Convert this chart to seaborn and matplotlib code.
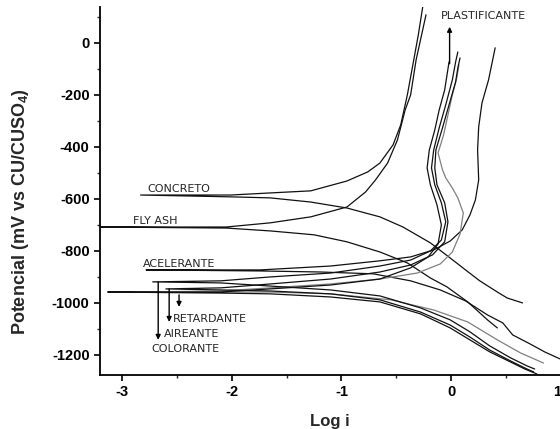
import numpy as np
import pandas as pd
import matplotlib
matplotlib.use('Agg')
import matplotlib.pyplot as plt
from matplotlib.ticker import MultipleLocator
import seaborn as sns

curve_names = ['CONCRETO', 'FLY ASH', 'ACELERANTE', 'RETARDANTE',
               'AIREANTE', 'COLORANTE', 'PLASTIFICANTE']

# punto de inicio de cada barrido (log i, mV)
start_logi = [-2.83, -3.19, -2.78, -2.83, -2.60, -2.72, -3.13]
start_mv = [-585, -708, -873, -958, -946, -919, -958]

# rama anodica / catodica de cada curva
concreto_an_x = [-2.01, -1.65, -1.28, -0.95, -0.76, -0.65, -0.53, -0.46, -0.40, -0.35, -0.30, -0.26]
concreto_an_y = [-585, -577, -569, -531, -496, -462, -392, -315, -200, -85, 31, 138]
concreto_ca_x = [-2.01, -1.65, -1.28, -0.95, -0.65, -0.44, -0.19, -0.01, 0.13, 0.26, 0.42, 0.51, 0.65]
concreto_ca_y = [-592, -596, -612, -635, -669, -708, -769, -827, -873, -915, -958, -981, -1000]

flyash_an_x = [-2.05, -1.65, -1.28, -0.95, -0.78, -0.69, -0.58, -0.49, -0.42, -0.37, -0.32, -0.27, -0.23]
flyash_an_y = [-708, -692, -669, -631, -573, -527, -462, -373, -258, -200, -65, 31, 108]
flyash_ca_x = [-2.05, -1.65, -1.25, -0.95, -0.65, -0.40, -0.19, -0.04, 0.15, 0.33, 0.42]
flyash_ca_y = [-712, -723, -738, -765, -804, -846, -904, -938, -996, -1065, -1096]

acel_an_x = [-1.74, -1.10, -0.65, -0.37, -0.16, -0.01, 0.10, 0.17, 0.22, 0.25, 0.24, 0.25, 0.28, 0.34, 0.40]
acel_an_y = [-873, -858, -838, -823, -796, -762, -719, -662, -604, -527, -412, -323, -231, -142, -19]
acel_ca_x = [-1.74, -1.19, -0.71, -0.37, -0.10, 0.13, 0.33, 0.47, 0.56, 0.72, 0.85, 0.99]
acel_ca_y = [-877, -881, -888, -915, -950, -992, -1046, -1077, -1123, -1158, -1188, -1215]

retar_an_x = [-2.10, -1.65, -1.10, -0.65, -0.31, -0.10, 0.01, 0.08, 0.11, 0.06, 0.01, -0.05, -0.08, -0.12, -0.07, -0.03, 0.01, 0.05, 0.07]
retar_an_y = [-954, -942, -927, -908, -885, -850, -804, -735, -654, -596, -558, -519, -488, -423, -354, -277, -200, -135, -85]
retar_ca_x = [-2.10, -1.65, -1.10, -0.55, -0.16, 0.15, 0.42, 0.63, 0.84]
retar_ca_y = [-958, -958, -965, -988, -1027, -1073, -1142, -1192, -1231]

airea_an_x = [-2.10, -1.65, -1.10, -0.65, -0.37, -0.17, -0.06, -0.03, -0.06, -0.13, -0.15, -0.14, -0.08, -0.02, 0.04, 0.06, 0.08]
airea_an_y = [-942, -927, -908, -881, -854, -815, -765, -688, -615, -546, -481, -412, -327, -238, -150, -96, -58]
airea_ca_x = [-2.10, -1.65, -1.10, -0.65, -0.28, -0.01, 0.17, 0.35, 0.54, 0.69, 0.75]
airea_ca_y = [-950, -954, -965, -988, -1035, -1085, -1131, -1181, -1223, -1254, -1265]

color_an_x = [-2.10, -1.65, -1.10, -0.65, -0.37, -0.19, -0.09, -0.05, -0.09, -0.15, -0.18, -0.16, -0.11, -0.05, 0.01, 0.04, 0.06]
color_an_y = [-915, -900, -885, -858, -835, -800, -758, -688, -615, -546, -481, -412, -327, -238, -142, -73, -35]
color_ca_x = [-2.10, -1.65, -1.10, -0.65, -0.28, -0.01, 0.17, 0.35, 0.54, 0.69, 0.76]
color_ca_y = [-923, -935, -950, -973, -1019, -1065, -1111, -1165, -1211, -1242, -1254]

plast_an_x = [-2.10, -1.65, -1.10, -0.65, -0.37, -0.21, -0.12, -0.09, -0.13, -0.19, -0.22, -0.20, -0.15, -0.11, -0.06, -0.02]
plast_an_y = [-958, -946, -931, -908, -865, -823, -773, -700, -623, -546, -481, -412, -335, -258, -181, -73]
plast_ca_x = [-2.10, -1.65, -1.10, -0.65, -0.28, -0.01, 0.17, 0.35, 0.54, 0.67, 0.78]
plast_ca_y = [-962, -965, -977, -996, -1042, -1096, -1142, -1188, -1227, -1254, -1273]

anodic = [(concreto_an_x, concreto_an_y), (flyash_an_x, flyash_an_y), (acel_an_x, acel_an_y),
          (retar_an_x, retar_an_y), (airea_an_x, airea_an_y), (color_an_x, color_an_y),
          (plast_an_x, plast_an_y)]
cathodic = [(concreto_ca_x, concreto_ca_y), (flyash_ca_x, flyash_ca_y), (acel_ca_x, acel_ca_y),
            (retar_ca_x, retar_ca_y), (airea_ca_x, airea_ca_y), (color_ca_x, color_ca_y),
            (plast_ca_x, plast_ca_y)]

# posiciones de las etiquetas (log i, mV)
label_x = [-2.77, -2.90, -2.81, -2.54, -2.62, -2.73, -0.09]
label_y = [-573, -696, -860, -1073, -1131, -1188, 92]

# flechas: x, mV inicio, mV fin
arrow_x = [-2.67, -2.57, -2.48, -0.015]
arrow_y0 = [-919, -946, -969, -80]
arrow_y1 = [-1142, -1073, -1015, 62]

rows = []
for i, name in enumerate(curve_names):
    cx, cy = cathodic[i]
    axx, ayy = anodic[i]
    xs = cx[::-1] + [start_logi[i]] + axx
    ys = cy[::-1] + [start_mv[i]] + ayy
    for x, y in zip(xs, ys):
        rows.append((name, x, y))
df = pd.DataFrame(rows, columns=['curve', 'logi', 'mv'])

palette = {n: '#111111' for n in curve_names}
palette['RETARDANTE'] = '#808080'

sns.set_style('ticks')
plt.rcParams['font.family'] = ['Liberation Sans', 'DejaVu Sans']
plt.rcParams['mathtext.default'] = 'regular'
plt.rcParams['axes.unicode_minus'] = False

fig = plt.figure(figsize=(5.6, 4.29), dpi=100)
ax = fig.add_axes([0.1786, 0.1259, 0.8232, 0.8578])

sns.lineplot(data=df, x='logi', y='mv', hue='curve', palette=palette, sort=False,
             estimator=None, legend=False, linewidth=0.9, ax=ax)

ax.set_xlim(-3.2, 1.0)
ax.set_ylim(-1277, 138)
ax.set_xticks([-3, -2, -1, 0, 1])
ax.set_yticks(np.arange(-1200, 1, 200))
ax.xaxis.set_minor_locator(MultipleLocator(0.5))
ax.yaxis.set_minor_locator(MultipleLocator(100))
ax.tick_params(which='major', length=4.5, width=1.2, labelsize=10.5, pad=3, colors='black')
ax.tick_params(which='minor', length=2.3, width=1.0)
for lbl in ax.get_xticklabels() + ax.get_yticklabels():
    lbl.set_fontweight('bold')
# la etiqueta "1" queda en el borde derecho
ax.get_xticklabels()[-1].set_horizontalalignment('right')
sns.despine(ax=ax)
for s in ['left', 'bottom']:
    ax.spines[s].set_linewidth(1.3)
    ax.spines[s].set_color('black')

ax.set_xlabel('Log i', fontsize=12, fontweight='bold')
ax.set_ylabel('Potencial (mV vs CU/CUSO$_4$)', fontsize=13, fontweight='bold')
ax.xaxis.set_label_coords(0.499, -0.105)
ax.yaxis.set_label_coords(-0.15, 0.443)

for name, x, y in zip(curve_names, label_x, label_y):
    ax.text(x, y, name, fontsize=8, family='DejaVu Sans', va='baseline', ha='left')

for x, y0, y1 in zip(arrow_x, arrow_y0, arrow_y1):
    ax.annotate('', xy=(x, y1), xytext=(x, y0),
                arrowprops=dict(arrowstyle='-|>', color='black', lw=1.0,
                                mutation_scale=7, shrinkA=0, shrinkB=0))

fig.savefig('out.png', dpi=100)
